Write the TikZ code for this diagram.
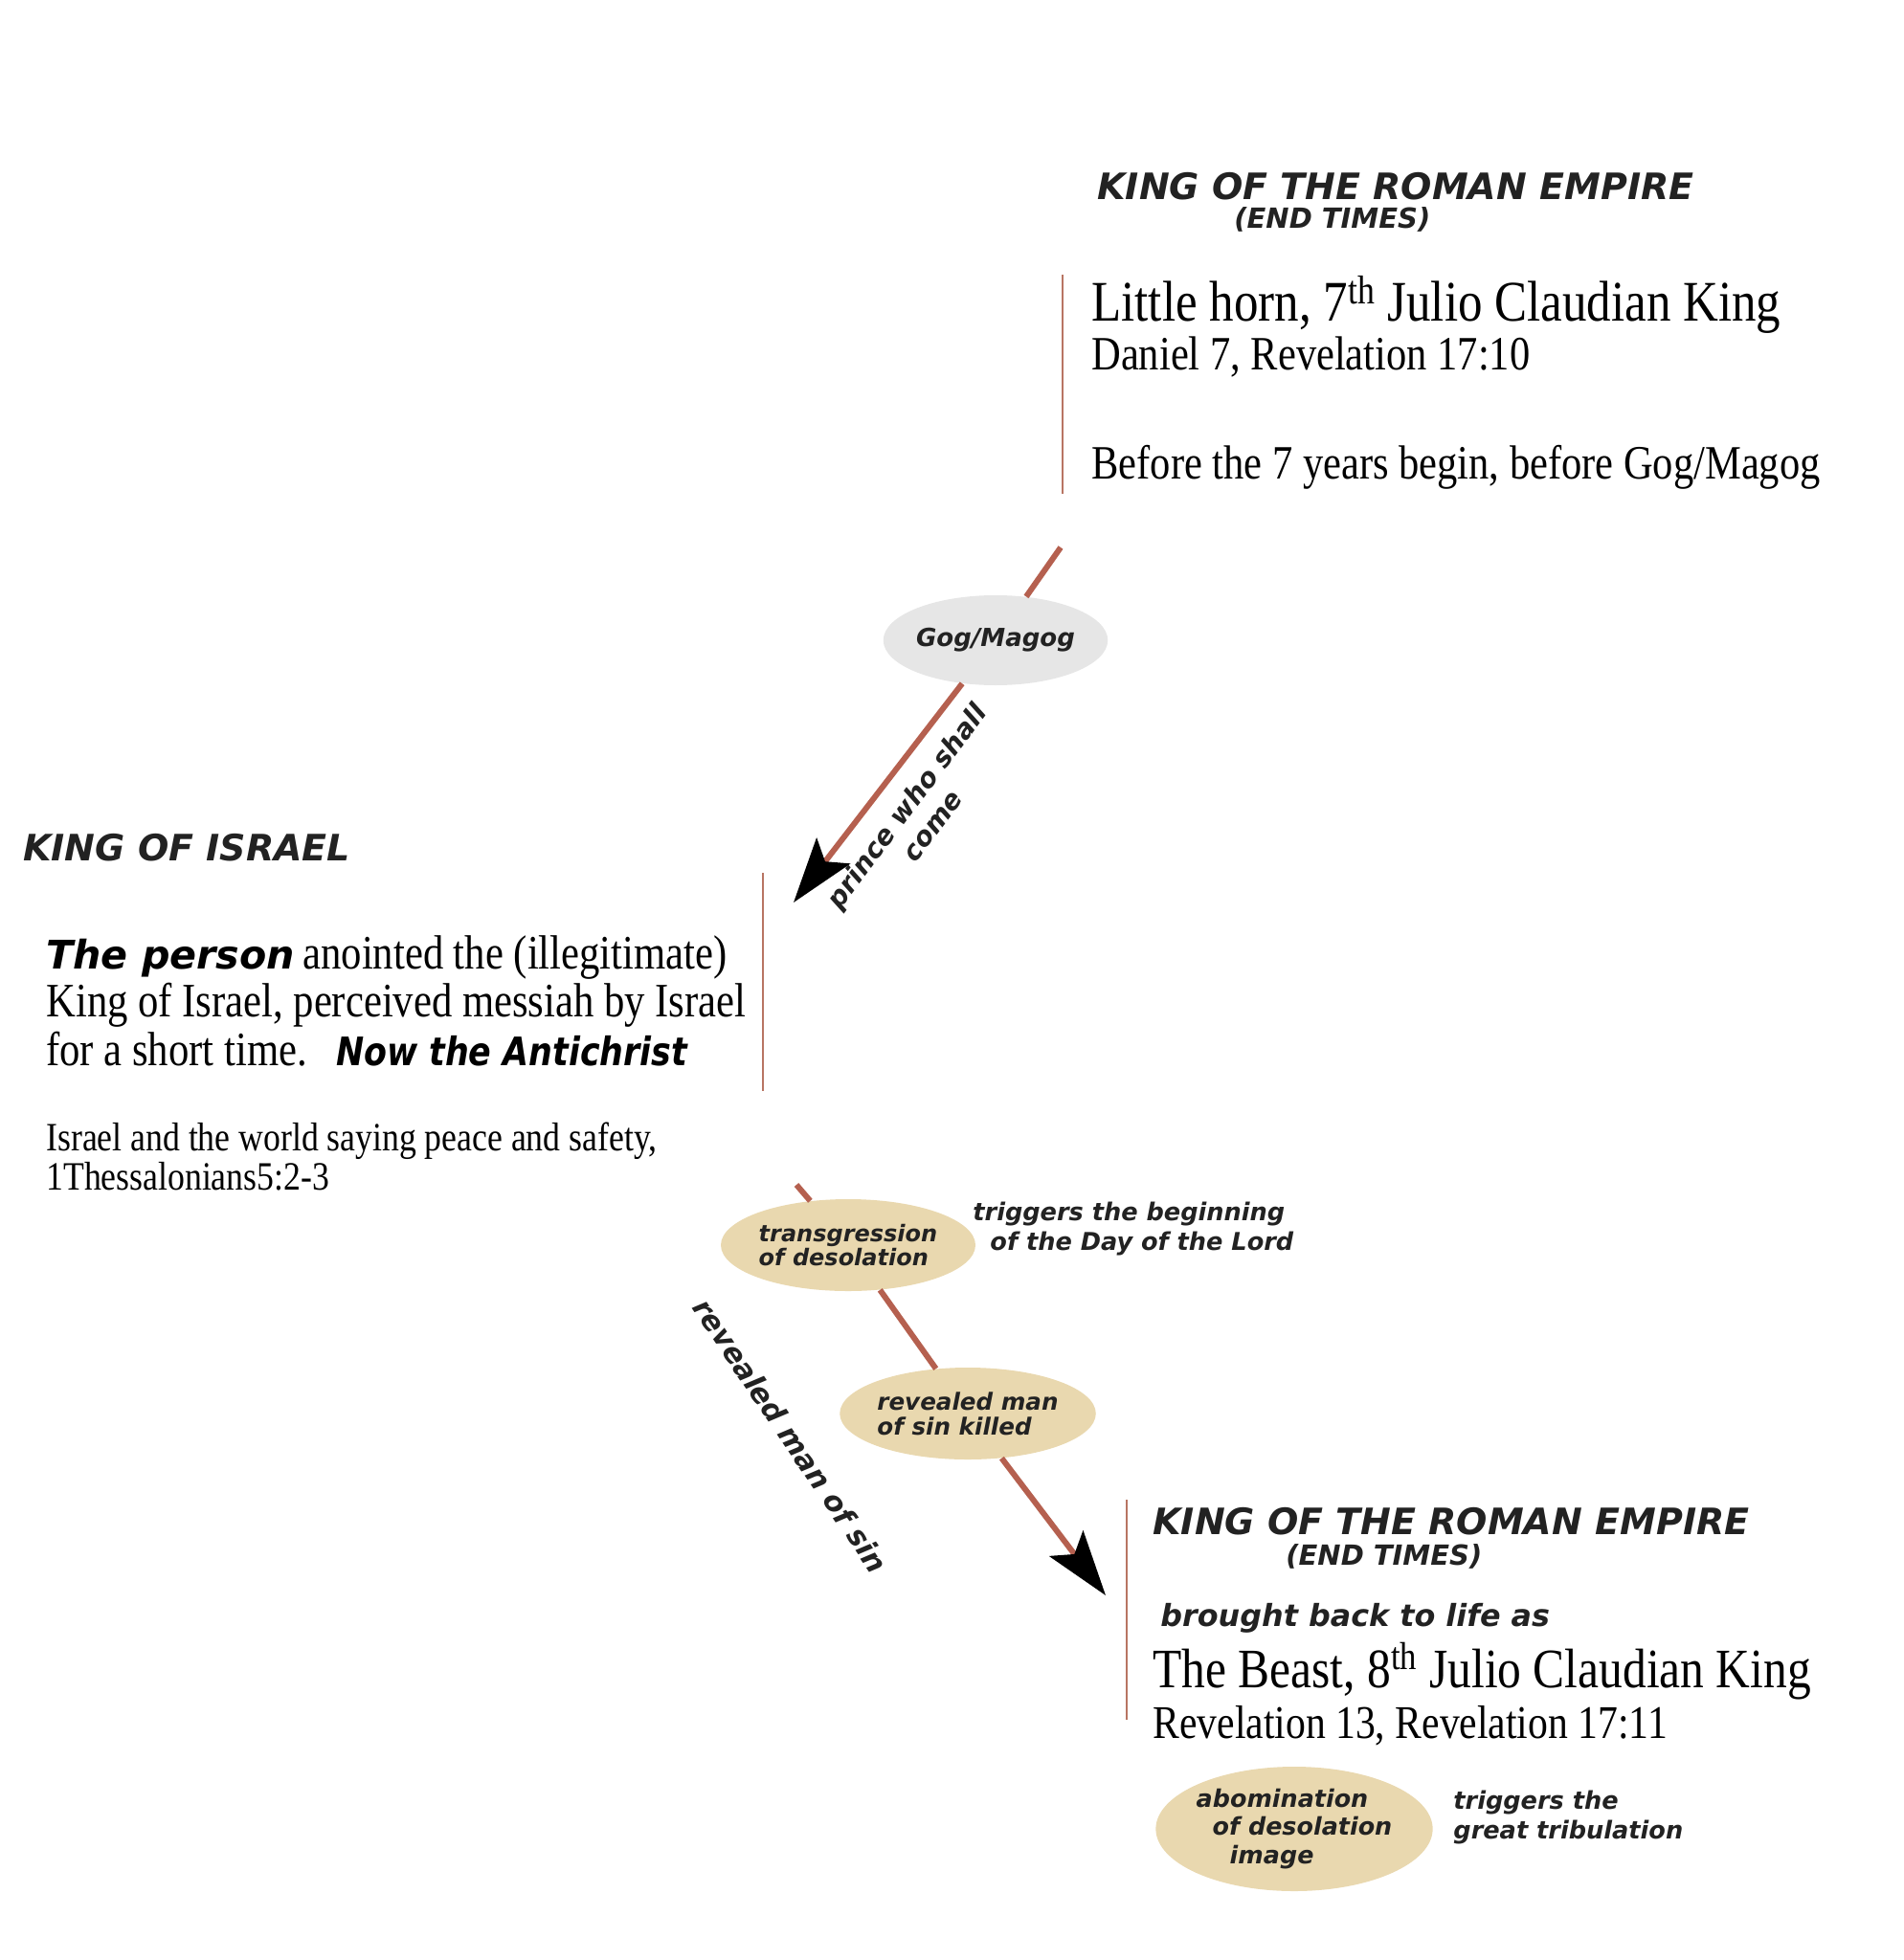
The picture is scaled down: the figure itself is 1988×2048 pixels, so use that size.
\documentclass[tikz,border=0pt]{standalone}
\usepackage{fontspec}
\setmainfont{Liberation Serif}[FakeStretch=0.85]
\newfontfamily\labelfont{DejaVu Sans}
\newfontfamily\narrowfont{DejaVu Sans}[FakeStretch=0.85]
\usetikzlibrary{shapes.geometric,arrows.meta,calc}
\definecolor{rust}{HTML}{B5604F}
\definecolor{rulecol}{HTML}{B87563}
\definecolor{greyoval}{HTML}{E6E6E6}
\definecolor{tanoval}{HTML}{E9D8AF}
\definecolor{ink}{HTML}{222222}

\begin{document}
\begin{tikzpicture}[x=0.5pt, y=-0.5pt,
    heading/.style={anchor=base west, inner sep=0pt, text=ink,
        font=\labelfont\bfseries\itshape\fontsize{19pt}{23pt}\selectfont},
    subhead/.style={heading, font=\labelfont\bfseries\itshape\fontsize{14.5pt}{17pt}\selectfont},
    bigline/.style={anchor=base west, inner sep=0pt, font=\fontsize{30pt}{36pt}\selectfont},
    midline/.style={bigline, font=\fontsize{25pt}{30pt}\selectfont},
    bodyline/.style={bigline, font=\fontsize{25.1pt}{30pt}\selectfont},
    smallline/.style={bigline, font=\fontsize{21pt}{25pt}\selectfont},
    sidenote/.style={anchor=base west, inner sep=0pt, text=ink,
        font=\labelfont\bfseries\itshape\fontsize{12.8pt}{15.5pt}\selectfont},
    oval/.style={ellipse, inner sep=0pt, align=left, text=ink, fill=tanoval,
        font=\labelfont\bfseries\itshape\fontsize{12pt}{12.6pt}\selectfont},
    alongtext/.style={inner sep=0pt, align=center, text=ink,
        font=\labelfont\bfseries\itshape\fontsize{14pt}{17pt}\selectfont},
    sepline/.style={draw=rulecol, line width=0.8pt},
    rustline/.style={draw=rust, line width=3pt},
    rustarrow/.style={rustline, -{Stealth[length=34pt, width=22pt, inset=7pt, color=black]}},
]
\useasboundingbox (0,0) rectangle (1988,2048);

% Roman king (7th)
\node[heading] (rome1) at (1146,209) {KING OF THE ROMAN EMPIRE};
\node[subhead] (end1) at (1289,239) {(END TIMES)};
\draw[sepline] (1110,287) -- (1110,516);
\node[bigline] (horn) at (1140,336) {Little horn, 7\textsuperscript{th} Julio Claudian King};
\node[midline] (dan) at (1140,387) {Daniel 7, Revelation 17:10};
\node[midline] (before) at (1140,500) {Before the 7 years begin, before Gog/Magog};

% King of Israel
\node[heading] (israel) at (24,899) {KING OF ISRAEL};
\draw[sepline] (797,912) -- (797,1140);
\node[bodyline] (person) at (48,1012) {{\labelfont\bfseries\itshape\fontsize{20.6pt}{24pt}\selectfont The person}\,anointed the (illegitimate)};
\node[bodyline] (messiah) at (48,1062) {King of Israel, perceived messiah by Israel};
\node[bodyline] (short) at (48,1113) {for a short time.\hspace{0.6em}{\narrowfont\bfseries\itshape\fontsize{20.5pt}{24pt}\selectfont Now the Antichrist}};
\node[smallline] (peace) at (48,1202) {Israel and the world saying peace and safety,};
\node[smallline] (thess) at (48,1243) {1Thessalonians5:2-3};

% Roman king (8th)
\node[heading] (rome2) at (1204,1603) {KING OF THE ROMAN EMPIRE};
\node[subhead] (end2) at (1343,1635) {(END TIMES)};
\draw[sepline] (1177,1567) -- (1177,1797);
\node[heading, font=\labelfont\bfseries\itshape\fontsize{15.9pt}{19pt}\selectfont] (life) at (1212,1699) {brought back to life as};
\node[bigline, font=\fontsize{29.1pt}{35pt}\selectfont] (beast) at (1204,1763) {The Beast, 8\textsuperscript{th} Julio Claudian King};
\node[midline, font=\fontsize{24.5pt}{30pt}\selectfont] (rev) at (1204,1816) {Revelation 13, Revelation 17:11};

% first arrow
\coordinate (k1top) at (1108,572);
\coordinate (k2tip) at (829,943);
\node[oval, fill=greyoval, minimum width=116pt, minimum height=47pt,
      font=\labelfont\bfseries\itshape\fontsize{13pt}{15pt}\selectfont] (gog) at (1040,669) {Gog/Magog};
\draw[rustline] (k1top) -- (gog);
\draw[rustarrow] (gog) -- (k2tip);
\node[alongtext, rotate=53] (prince) at (960,852) {prince who shall\\come};

% second arrow
\coordinate (k2low) at (832,1238);
\coordinate (k3tip) at (1155,1667);
\node[oval, minimum width=133pt, minimum height=48pt] (trans) at (886,1301) {transgression\\of desolation};
\node[oval, minimum width=133pt, minimum height=48pt,
      font=\labelfont\bfseries\itshape\fontsize{12.3pt}{13pt}\selectfont] (killed) at (1011,1477) {revealed man\\of sin killed};
\draw[rustline] (k2low) -- (trans);
\draw[rustline] (trans) -- (killed);
\draw[rustarrow] (killed) -- (k3tip);
\node[alongtext, rotate=-56, font=\labelfont\bfseries\itshape\fontsize{15.1pt}{18pt}\selectfont] (sin) at (826,1500) {revealed man of sin};

\node[sidenote] (trig1) at (1016,1275) {triggers the beginning};
\node[sidenote] (trig2) at (1034,1306) {of the Day of the Lord};

% abomination
\node[oval, minimum width=144pt, minimum height=65pt,
      font=\labelfont\bfseries\itshape\fontsize{12.7pt}{14.7pt}\selectfont] (abom) at (1352,1911) {abomination\\\hspace*{8.5pt}of desolation\\\hspace*{17.5pt}image};
\node[sidenote] (trib1) at (1518,1890) {triggers the};
\node[sidenote] (trib2) at (1518,1921) {great tribulation};

\end{tikzpicture}
\end{document}
